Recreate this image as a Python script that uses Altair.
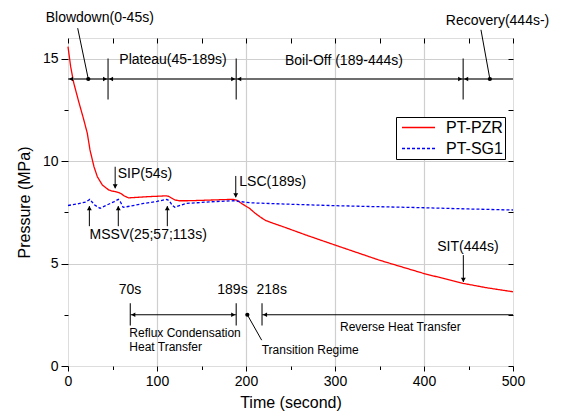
import altair as alt
import pandas as pd

FONT = "Liberation Sans"

# ---------------- data ----------------
pzr_time = [0, 3, 6.5, 12, 17.5, 21.7, 24.7, 29.2, 33, 38.6, 46, 50, 54, 57, 60, 63, 68,
            75, 90, 110, 113, 116, 120, 125, 133, 150, 170, 186, 190, 196, 204, 210, 216,
            222, 230, 242, 268, 300, 350, 400, 444, 470, 500]
pzr_pressure = [15.58, 14.6, 13.8, 12.9, 12.05, 11.35, 10.54, 9.72, 9.23, 8.83, 8.58, 8.53,
                8.5, 8.46, 8.4, 8.3, 8.2, 8.22, 8.26, 8.3, 8.28, 8.2, 8.1, 8.06, 8.06, 8.08,
                8.11, 8.13, 8.08, 7.9, 7.69, 7.46, 7.27, 7.1, 6.97, 6.79, 6.38, 5.9, 5.16,
                4.51, 4.03, 3.82, 3.62]

sg_time = [0, 10, 20, 24.5, 27, 30, 36, 45, 52, 56.5, 59, 62, 70, 85, 100, 111, 114, 117,
           120, 127, 133, 160, 186, 205, 250, 300, 350, 400, 450, 500]
sg_pressure = [7.83, 7.9, 8.0, 8.13, 8.0, 7.85, 7.69, 7.88, 8.02, 8.13, 8.0, 7.74, 7.8,
               7.93, 8.03, 8.13, 8.05, 7.85, 7.74, 7.85, 7.93, 8.01, 8.06, 7.96, 7.89,
               7.82, 7.77, 7.72, 7.66, 7.61]

series_names = ["PT-PZR", "PT-SG1"]
series_colors = ["#ff0000", "#0000ff"]

# phase bar (top)
phase_level = 14
phase_bounds = [45, 189, 444]
phase_low, phase_high = 13, 15
phase_heads_left = [0, 45, 189, 444]
phase_heads_right = [45, 189, 444]

# heat-transfer bar (bottom)
ht_level = 2.5
ht_segments_start = [70, 218]
ht_segments_end = [189, 500]
ht_ticks = [70, 189, 218]
ht_low, ht_high = 1.97, 3.06
ht_heads_left = [70, 218]
ht_heads_right = [189]

# dots and leader lines
dot_t = [22.8, 474, 201.5]
dot_p = [14, 14, 2.5]
leader_t1 = [10.9, 464, 201.5]
leader_p1 = [16.48, 16.4, 2.5]
leader_t2 = [22.8, 474, 217.6]
leader_p2 = [14, 14, 1.26]

# arrows
down_arrow_t = [53, 188.5, 444.2]
down_arrow_top = [9.72, 9.27, 5.41]
down_arrow_bottom = [8.67, 8.23, 4.1]
up_arrow_t = [24, 56.5, 111.6]
up_arrow_bottom = [6.82, 6.82, 6.82]
up_arrow_top = [7.8, 7.8, 7.8]

# texts
center14_text = ["Blowdown(0-45s)", "Recovery(444s-)", "Plateau(45-189s)", "Boil-Off (189-444s)",
                 "MSSV(25;57;113s)", "SIT(444s)", "70s", "189s", "218s"]
center14_t = [35.7, 482.6, 118, 310, 90.1, 449.4, 69.7, 184.8, 228.9]
center14_p = [16.99, 16.84, 14.92, 14.9, 6.41, 5.8, 3.7, 3.7, 3.7]

left14_text = ["SIP(54s)", "LSC(189s)"]
left14_t = [55.8, 192.5]
left14_p = [9.37, 9.0]

left12_text = ["Reflux Condensation", "Heat Transfer", "Transition Regime"]
left12_t = [68.9, 68.9, 217.6]
left12_p = [1.61, 0.93, 0.80]

center12_text = ["Reverse Heat Transfer"]
center12_t = [373.4]
center12_p = [1.9]

# ---------------- helpers ----------------
xscale = alt.Scale(domain=[0, 500], nice=False, zero=False)
yscale = alt.Scale(domain=[0, 16], nice=False, zero=False)


def X(f, axis=None):
    return alt.X(f, type="quantitative", scale=xscale, axis=axis)


def Y(f, axis=None):
    return alt.Y(f, type="quantitative", scale=yscale, axis=axis)


def X2(f):
    return alt.X2(f)


def Y2(f):
    return alt.Y2(f)


lines_df = pd.DataFrame({
    "t": pzr_time + sg_time,
    "p": pzr_pressure + sg_pressure,
    "series": [series_names[0]] * len(pzr_time) + [series_names[1]] * len(sg_time),
})

bottom_axis = alt.Axis(
    values=list(range(0, 501, 50)),
    labelExpr="datum.value % 100 == 0 ? datum.label : ''",
    tickSize={"condition": {"test": "datum.value % 100 == 0", "value": 5}, "value": 3.5},
    tickColor="black", tickWidth=1,
    grid=True, gridColor="#cfcfcf", gridWidth=1.2,
    gridOpacity={"condition": {"test": "datum.value % 100 == 0 && datum.value > 0 && datum.value < 500",
                               "value": 1}, "value": 0},
    domain=False, labelFont=FONT, labelFontSize=14, labelColor="black", labelPadding=3,
    labelFlush=False, labelOverlap=False,
    title="Time (second)", titleFont=FONT, titleFontSize=16, titleFontWeight="normal",
    titleColor="black", titlePadding=6,
)
left_axis = alt.Axis(
    values=[0, 2.5, 5, 7.5, 10, 12.5, 15],
    labelExpr="datum.value % 5 == 0 ? datum.label : ''",
    tickSize={"condition": {"test": "datum.value % 5 == 0", "value": 7}, "value": 4},
    tickColor="black", tickWidth=1,
    grid=True, gridColor="#cfcfcf", gridWidth=1.2,
    gridOpacity={"condition": {"test": "datum.value % 5 == 0 && datum.value > 0", "value": 1},
                 "value": 0},
    domain=False, labelFont=FONT, labelFontSize=14, labelColor="black", labelPadding=3,
    labelFlush=False, labelOverlap=False,
    title="Pressure (MPa)", titleFont=FONT, titleFontSize=16, titleFontWeight="normal",
    titleColor="black", titlePadding=10,
)
top_axis = alt.Axis(orient="top", values=list(range(0, 501, 50)), labels=False, grid=False,
                    domain=False, tickSize=5, tickColor="black", offset=-5, title=None)
right_axis = alt.Axis(orient="right", values=[0, 2.5, 5, 7.5, 10, 12.5, 15], labels=False,
                      grid=False, domain=False, tickSize=5, tickColor="black", offset=-5,
                      title=None)

legend = alt.Legend(
    title=None, orient="none", legendX=328, legendY=79,
    strokeColor="black", fillColor="white", padding=2,
    labelFont=FONT, labelFontSize=16, labelColor="black",
    symbolType="M-2.2,0L2.2,0", symbolSize=225, symbolStrokeWidth=1.5,
    symbolOffset=12, labelOffset=19, rowPadding=4, cornerRadius=0,
)

lines = alt.Chart(lines_df).mark_line(strokeWidth=1.3).encode(
    x=X("t", bottom_axis),
    y=Y("p", left_axis),
    color=alt.Color("series:N", scale=alt.Scale(domain=series_names, range=series_colors),
                    legend=legend),
    strokeDash=alt.StrokeDash("series:N",
                              scale=alt.Scale(domain=series_names, range=[[1, 0], [3, 2]]),
                              legend=legend),
)

mirror = alt.Chart(lines_df).mark_point(opacity=0).encode(
    x=X("t", top_axis), y=Y("p", right_axis))

# top phase bar
phase_line = alt.Chart(pd.DataFrame({"a": [0], "b": [500], "p": [phase_level]})).mark_rule(
    color="#6e6e6e", strokeWidth=2).encode(x=X("a"), x2=X2("b"), y=Y("p"))
phase_vlines = alt.Chart(pd.DataFrame({"t": phase_bounds, "lo": [phase_low] * 3,
                                       "hi": [phase_high] * 3})).mark_rule(
    color="#222222", strokeWidth=1.2).encode(x=X("t"), y=Y("lo"), y2=Y2("hi"))
phase_hl = alt.Chart(pd.DataFrame({"t": phase_heads_left, "p": [phase_level] * len(phase_heads_left)})
                     ).mark_point(shape="triangle-left", filled=True, size=22, color="black",
                                  opacity=1, xOffset=3).encode(x=X("t"), y=Y("p"))
phase_hr = alt.Chart(pd.DataFrame({"t": phase_heads_right, "p": [phase_level] * len(phase_heads_right)})
                     ).mark_point(shape="triangle-right", filled=True, size=22, color="black",
                                  opacity=1, xOffset=-3).encode(x=X("t"), y=Y("p"))

# bottom heat-transfer bar
ht_lines = alt.Chart(pd.DataFrame({"a": ht_segments_start, "b": ht_segments_end,
                                   "p": [ht_level] * 2})).mark_rule(
    color="black", strokeWidth=1).encode(x=X("a"), x2=X2("b"), y=Y("p"))
ht_vt = alt.Chart(pd.DataFrame({"t": ht_ticks, "lo": [ht_low] * 3, "hi": [ht_high] * 3})
                  ).mark_rule(color="#222222", strokeWidth=1.2).encode(x=X("t"), y=Y("lo"), y2=Y2("hi"))
ht_hl = alt.Chart(pd.DataFrame({"t": ht_heads_left, "p": [ht_level] * len(ht_heads_left)})
                  ).mark_point(shape="triangle-left", filled=True, size=22, color="black",
                               opacity=1, xOffset=3).encode(x=X("t"), y=Y("p"))
ht_hr = alt.Chart(pd.DataFrame({"t": ht_heads_right, "p": [ht_level] * len(ht_heads_right)})
                  ).mark_point(shape="triangle-right", filled=True, size=22, color="black",
                               opacity=1, xOffset=-3).encode(x=X("t"), y=Y("p"))

# dots and leaders
dots = alt.Chart(pd.DataFrame({"t": dot_t, "p": dot_p})).mark_circle(
    size=18, color="black", opacity=1).encode(x=X("t"), y=Y("p"))
leaders = alt.Chart(pd.DataFrame({"a": leader_t1, "pa": leader_p1, "b": leader_t2, "pb": leader_p2})
                    ).mark_rule(color="black", strokeWidth=1).encode(
    x=X("a"), y=Y("pa"), x2=X2("b"), y2=Y2("pb"))

# arrows
down_shafts = alt.Chart(pd.DataFrame({"t": down_arrow_t, "a": down_arrow_top, "b": down_arrow_bottom})
                        ).mark_rule(color="black", strokeWidth=1).encode(x=X("t"), y=Y("a"), y2=Y2("b"))
down_heads = alt.Chart(pd.DataFrame({"t": down_arrow_t, "b": down_arrow_bottom})).mark_point(
    shape="triangle-down", filled=True, size=24, color="black", opacity=1, yOffset=-2).encode(
    x=X("t"), y=Y("b"))
up_shafts = alt.Chart(pd.DataFrame({"t": up_arrow_t, "a": up_arrow_bottom, "b": up_arrow_top})
                      ).mark_rule(color="black", strokeWidth=1).encode(x=X("t"), y=Y("a"), y2=Y2("b"))
up_heads = alt.Chart(pd.DataFrame({"t": up_arrow_t, "b": up_arrow_top})).mark_point(
    shape="triangle-up", filled=True, size=24, color="black", opacity=1, yOffset=2).encode(
    x=X("t"), y=Y("b"))


def texts(labels, ts, ps, align, size):
    return alt.Chart(pd.DataFrame({"label": labels, "t": ts, "p": ps})).mark_text(
        align=align, baseline="middle", font=FONT, fontSize=size, color="black").encode(
        x=X("t"), y=Y("p"), text="label:N")


t1 = texts(center14_text, center14_t, center14_p, "center", 14)
t2 = texts(left14_text, left14_t, left14_p, "left", 14)
t3 = texts(left12_text, left12_t, left12_p, "left", 12)
t4 = texts(center12_text, center12_t, center12_p, "center", 12)

chart = alt.layer(
    lines, mirror, phase_line, phase_vlines, phase_hl, phase_hr,
    ht_lines, ht_vt, ht_hl, ht_hr, dots, leaders,
    down_shafts, down_heads, up_shafts, up_heads, t1, t2, t3, t4,
).resolve_axis(x="independent", y="independent").properties(
    width=445, height=328,
    autosize=alt.AutoSizeParams(type="none"),
    padding={"left": 60, "top": 30, "right": 42, "bottom": 48},
).configure_view(stroke="black", strokeWidth=1.5).configure(background="white")

chart.save("out.html", embed_options={"renderer": "svg", "actions": False})
